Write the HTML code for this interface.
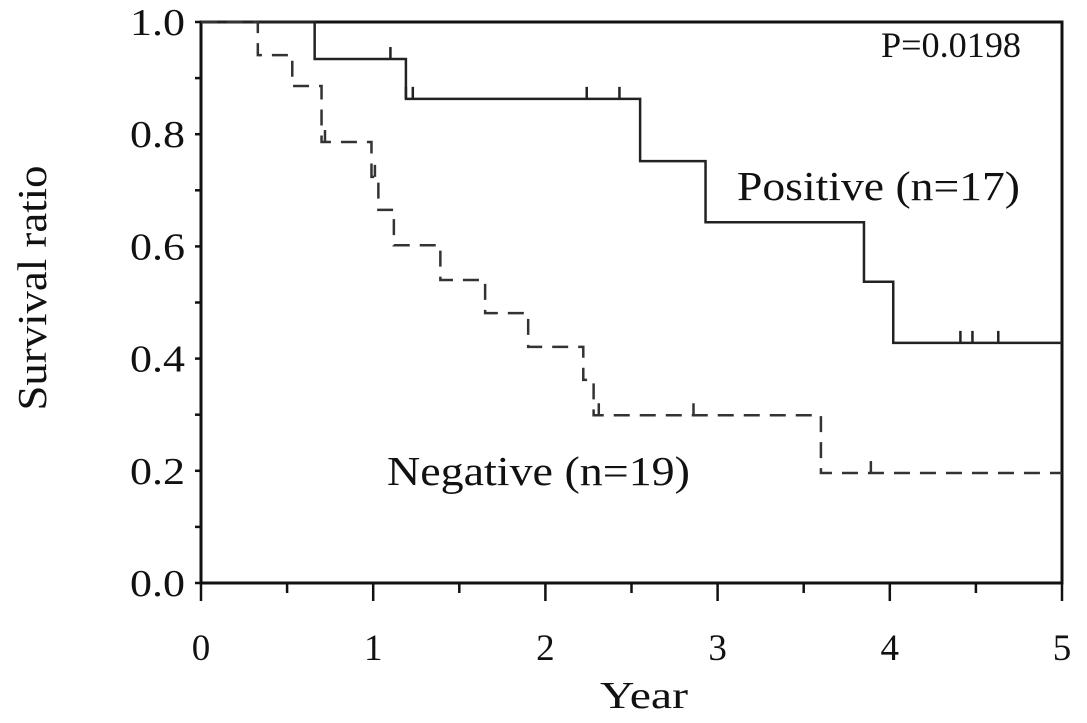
<!DOCTYPE html>
<html><head><meta charset="utf-8"><style>
html,body{margin:0;padding:0;background:#fff;}
svg text{font-family:"Liberation Serif",serif;fill:#111;}
</style></head><body>
<svg id="chart" width="1087" height="718" viewBox="0 0 1087 718" xmlns="http://www.w3.org/2000/svg">
<g id="axes"></g>
<g id="series"></g>
<text x="881" y="57" font-size="36" textLength="140" lengthAdjust="spacingAndGlyphs">P=0.0198</text>
<text x="737" y="200" font-size="41" textLength="283" lengthAdjust="spacingAndGlyphs">Positive (n=17)</text>
<text x="387" y="485" font-size="41" textLength="303" lengthAdjust="spacingAndGlyphs">Negative (n=19)</text>
<text x="600" y="708" font-size="38" textLength="88" lengthAdjust="spacingAndGlyphs">Year</text>
<text x="0" y="0" font-size="41" text-anchor="middle" textLength="245" lengthAdjust="spacingAndGlyphs" transform="translate(46,288) rotate(-90)">Survival ratio</text>
</svg>
<script>
const posTimes=[0.66,1.19,2.55,2.93,3.85,4.02];
const posSurv=[0.934,0.863,0.752,0.643,0.537,0.428];
const posCens=[1.10,1.19,1.23,2.24,2.43,4.41,4.48,4.63];
const negTimes=[0.33,0.53,0.70,0.99,1.03,1.12,1.39,1.65,1.90,2.22,2.28,3.60];
const negSurv=[0.941,0.886,0.786,0.724,0.665,0.602,0.540,0.481,0.421,0.362,0.299,0.196];
const negCens=[0.72,1.01,2.31,2.86,3.89];
const xTicks=[0,1,2,3,4,5];
const yTicks=[0.0,0.2,0.4,0.6,0.8,1.0];
const NS='http://www.w3.org/2000/svg';
const X0=201,X1=1062,Y0=583,Y1=22;
function sx(v){return X0+(X1-X0)*v/5;}
function sy(v){return Y0-(Y0-Y1)*v;}
function mk(tag,attrs,parent){const e=document.createElementNS(NS,tag);for(const k in attrs)e.setAttribute(k,attrs[k]);parent.appendChild(e);return e;}
const ax=document.getElementById('axes');
let l=mk('path',{d:`M${X0},${Y1} L${X0},${Y0} L${X1},${Y0} L${X1},${Y1} Z`,fill:'none',stroke:'#111','stroke-width':3},ax);


for(let i=0;i<=10;i++){
  const v=i/10;
  const t=mk('line',{x1:X0-6,x2:X0,y1:sy(v),y2:sy(v),stroke:'#111','stroke-width':2.5},ax);
  
  
}
yTicks.forEach(v=>{
  const t=mk('text',{x:X0-16,y:sy(v)+13,'font-size':38,'text-anchor':'end',textLength:55,lengthAdjust:'spacingAndGlyphs'},ax);
  t.textContent=v.toFixed(1);
  
  
});
for(let i=0;i<=10;i++){
  const v=i/2;
  const len=(i%2===0)?18:10;
  const t=mk('line',{x1:sx(v),x2:sx(v),y1:Y0,y2:Y0+len,stroke:'#111','stroke-width':2.5},ax);
  
  
}
xTicks.forEach(v=>{
  const t=mk('text',{x:sx(v),y:Y0+77,'font-size':37,'text-anchor':'middle'},ax);
  t.textContent=String(v);
  
  
});
function stepPath(times,surv){
  let d=`M${sx(0)},${sy(1)}`;let s=1;
  times.forEach((t,i)=>{d+=` L${sx(t)},${sy(s)} L${sx(t)},${sy(surv[i])}`;s=surv[i];});
  d+=` L${sx(5)},${sy(s)}`;return d;
}
function survAt(times,surv,t){let s=1;times.forEach((tt,i)=>{if(tt<=t)s=surv[i];});return s;}
const sg=document.getElementById('series');
const pp=mk('path',{d:stepPath(posTimes,posSurv),fill:'none',stroke:'#222','stroke-width':2.5},sg);


const np=mk('path',{d:stepPath(negTimes,negSurv),fill:'none',stroke:'#333','stroke-width':2.5,'stroke-dasharray':'16,10'},sg);


posCens.forEach(t=>{
  const y=sy(survAt(posTimes,posSurv,t));
  const c=mk('line',{x1:sx(t),x2:sx(t),y1:y-12,y2:y,stroke:'#222','stroke-width':2.5},sg);
  
  
});
negCens.forEach(t=>{
  const y=sy(survAt(negTimes,negSurv,t));
  const c=mk('line',{x1:sx(t),x2:sx(t),y1:y-12,y2:y,stroke:'#333','stroke-width':2.5},sg);
  
  
});
</script>
</body></html>
